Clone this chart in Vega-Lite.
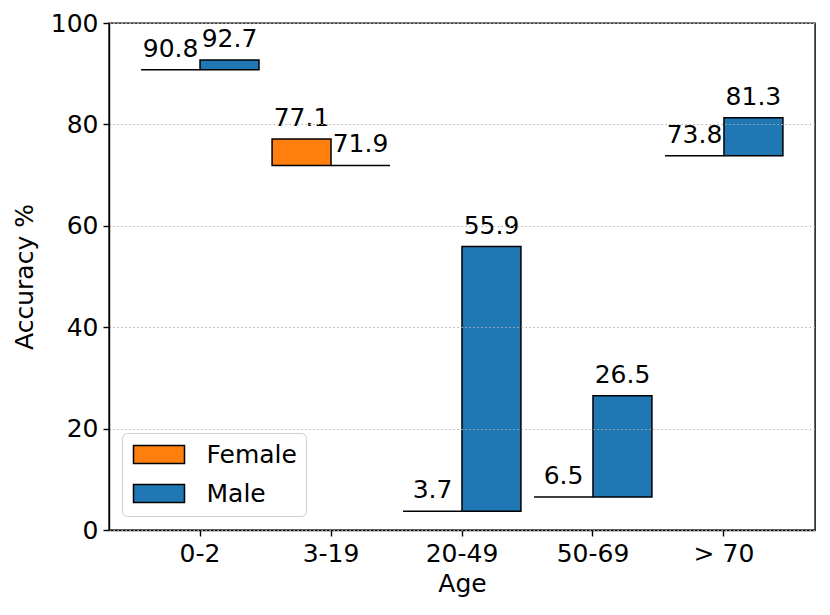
{
  "$schema": "https://vega.github.io/schema/vega-lite/v6.json",
  "width": 706,
  "height": 507,
  "autosize": {"type": "none"},
  "padding": {"left": 109, "top": 23, "right": 15, "bottom": 85},
  "config": {
    "font": "DejaVu Sans",
    "view": {"stroke": "black", "strokeWidth": 1.4},
    "axis": {
      "labelFontSize": 25,
      "labelColor": "black",
      "titleFontSize": 25,
      "titleFontWeight": "normal",
      "titleColor": "black",
      "tickColor": "black",
      "tickWidth": 1.4,
      "tickSize": 6,
      "domainColor": "black",
      "domainWidth": 1.4
    }
  },
  "data": {
    "values": [
      {"age": "0-2", "sex": "Female", "acc": 90.8},
      {"age": "0-2", "sex": "Male", "acc": 92.7},
      {"age": "3-19", "sex": "Female", "acc": 77.1},
      {"age": "3-19", "sex": "Male", "acc": 71.9},
      {"age": "20-49", "sex": "Female", "acc": 3.7},
      {"age": "20-49", "sex": "Male", "acc": 55.9},
      {"age": "50-69", "sex": "Female", "acc": 6.5},
      {"age": "50-69", "sex": "Male", "acc": 26.5},
      {"age": "> 70", "sex": "Female", "acc": 73.8},
      {"age": "> 70", "sex": "Male", "acc": 81.3}
    ]
  },
  "transform": [
    {"joinaggregate": [{"op": "min", "field": "acc", "as": "base"}], "groupby": ["age"]}
  ],
  "encoding": {
    "x": {
      "field": "age",
      "type": "nominal",
      "sort": null,
      "title": "Age",
      "scale": {"paddingInner": 0, "paddingOuter": 0.195},
      "axis": {"labelAngle": 0, "labelPadding": 5, "titlePadding": 5, "grid": false}
    },
    "xOffset": {
      "field": "sex",
      "type": "nominal",
      "sort": ["Female", "Male"],
      "scale": {"paddingInner": 0, "paddingOuter": 0.1111}
    }
  },
  "layer": [
    {
      "mark": {"type": "bar", "stroke": "black", "strokeWidth": 1.5, "opacity": 1},
      "encoding": {
        "y": {
          "field": "acc",
          "type": "quantitative",
          "title": "Accuracy %",
          "scale": {"domain": [0, 100], "nice": false},
          "axis": {
            "values": [0, 20, 40, 60, 80, 100],
            "labelPadding": 5,
            "titlePadding": 13,
            "grid": true,
            "gridColor": "#b0b0b0",
            "gridWidth": 1.2,
            "gridDash": [1.5, 2.5],
            "zindex": 1
          }
        },
        "y2": {"field": "base"},
        "color": {
          "field": "sex",
          "type": "nominal",
          "sort": ["Female", "Male"],
          "scale": {"domain": ["Female", "Male"], "range": ["#ff7f0e", "#1f77b4"]},
          "legend": {
            "title": null,
            "orient": "none",
            "legendX": 13,
            "legendY": 410,
            "padding": 9,
            "cornerRadius": 5,
            "strokeColor": "#d0d0d0",
            "fillColor": "rgba(255,255,255,0.8)",
            "symbolType": "M-2.833,-1L2.833,-1L2.833,1L-2.833,1Z",
            "symbolSize": 324,
            "symbolOffset": 15.5,
            "symbolOpacity": 1,
            "symbolStrokeColor": "black",
            "symbolStrokeWidth": 1.5,
            "labelFontSize": 25,
            "labelColor": "black",
            "labelOffset": 35,
            "rowPadding": 13
          }
        }
      }
    },
    {
      "mark": {"type": "text", "fontSize": 25, "color": "black", "baseline": "alphabetic", "dy": -13},
      "encoding": {
        "y": {"field": "acc", "type": "quantitative"},
        "text": {"field": "acc", "type": "quantitative", "format": ".1f"}
      }
    }
  ]
}
